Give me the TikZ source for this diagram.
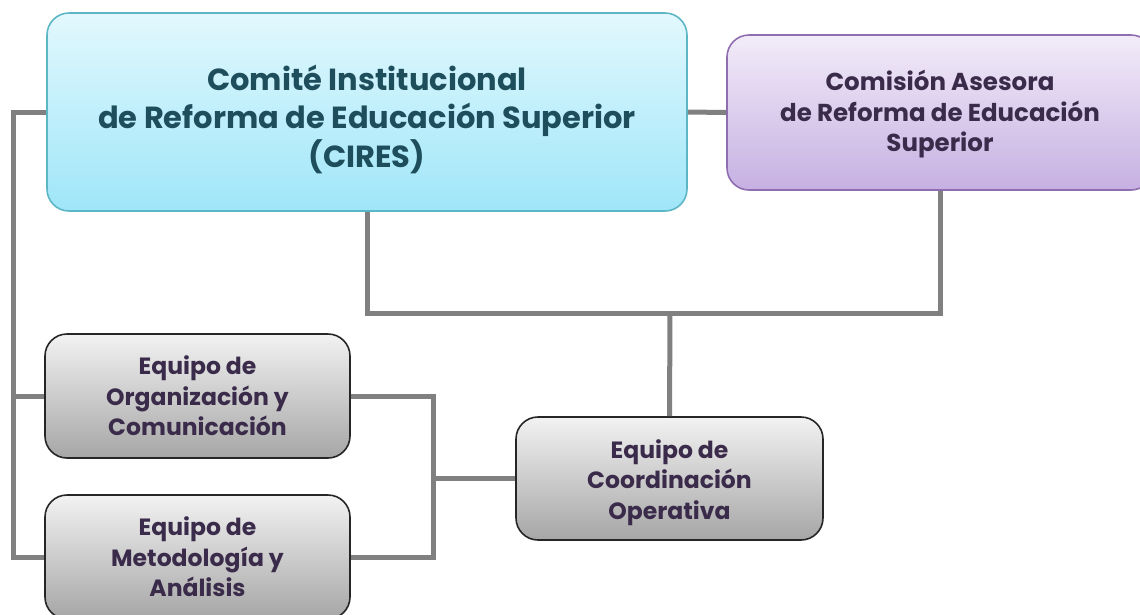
\documentclass[tikz,border=0pt]{standalone}
\usepackage{fontspec}
\setmainfont{Poppins}
\definecolor{cirestop}{HTML}{E2F8FD}
\definecolor{ciresbot}{HTML}{9FE6F9}
\definecolor{ciresline}{HTML}{5DB6C6}
\definecolor{cirestext}{HTML}{1E4E5C}
\definecolor{comtop}{HTML}{F2ECF9}
\definecolor{combot}{HTML}{C6B0E2}
\definecolor{comline}{HTML}{8F6EB0}
\definecolor{darktext}{HTML}{3B2B4B}
\definecolor{graytop}{HTML}{F2F2F2}
\definecolor{graybot}{HTML}{A6A6A6}
\definecolor{connc}{HTML}{808080}
\begin{document}
\begin{tikzpicture}[x=1pt,y=-1pt,
  box/.style={rounded corners=22pt, line width=1.6pt, inner sep=0pt},
  ciresbox/.style={box, draw=ciresline, top color=cirestop, bottom color=ciresbot,
     minimum width=640pt, minimum height=198pt},
  combox/.style={box, draw=comline, top color=comtop, bottom color=combot,
     minimum width=426pt, minimum height=155pt},
  graybox/.style={box, draw=black!85, top color=graytop, bottom color=graybot,
     minimum width=305pt, minimum height=124pt},
  lbl/.style={align=center, inner sep=0pt, text=darktext, font=\bfseries\fontsize{23.5}{30.5}\selectfont},
  cireslbl/.style={lbl, text=cirestext, font=\bfseries\fontsize{30.5}{38.5}\selectfont},
  comlbl/.style={lbl, font=\bfseries\fontsize{24.5}{30.5}\selectfont},
  conn/.style={draw=connc, line width=5pt}]
\useasboundingbox (0,0) rectangle (1140,614);
\coordinate (L) at (13,0);
\coordinate (R) at (433,0);
\coordinate (jn) at (670,313);
\node[ciresbox] (cires) at (367,112) {};
\node[combox] (com) at (940,112.5) {};
\node[graybox] (org) at (197.5,396) {};
\node[graybox] (met) at (197.5,557) {};
\node[graybox, minimum width=307pt, minimum height=123pt] (coord) at (669.5,478.5) {};
\node[cireslbl] (ciresT) at ([yshift=-7pt]cires.center) {Comité Institucional\\de Reforma de Educación Superior\\(CIRES)};
\node[comlbl] (comT) at ([yshift=-2pt]com.center) {Comisión Asesora\\de Reforma de Educación\\Superior};
\node[lbl] (orgT) at ([yshift=0pt]org.center) {Equipo de\\Organización y\\Comunicación};
\node[lbl] (metT) at ([yshift=0pt]met.center) {Equipo de\\Metodología y\\Análisis};
\node[lbl] (coordT) at ([yshift=-4pt]coord.center) {Equipo de\\Coordinación\\Operativa};
\draw[conn] (cires.west) -| (L |- met.west) -- (met.west);
\draw[conn] (L |- org.west) -- (org.west);
\draw[conn] (cires.east) -- (com.west);
\draw[conn] (cires.south) |- (jn) -| (com.south);
\draw[conn] (jn) -- (coord.north);
\draw[conn] (org.east) -| (R |- met.east) -- (met.east);
\draw[conn] (R |- coord.west) -- (coord.west);
\end{tikzpicture}
\end{document}
